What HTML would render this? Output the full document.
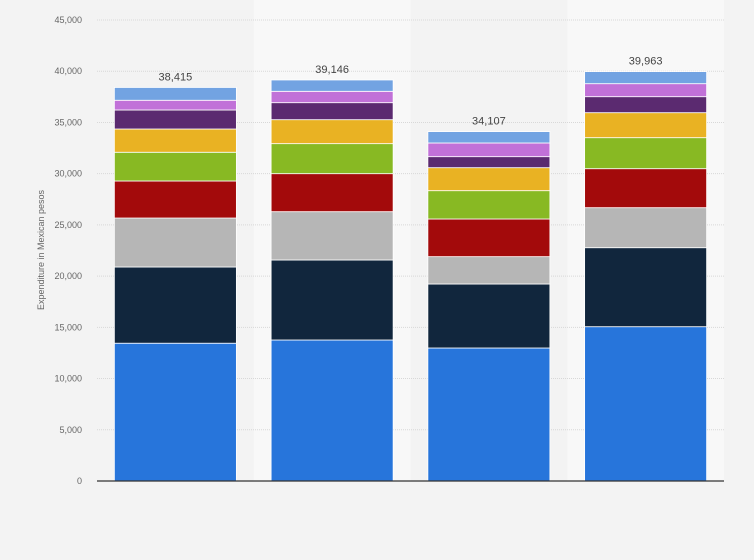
<!DOCTYPE html>
<html><head><meta charset="utf-8"><style>
html,body{margin:0;padding:0;background:#f3f3f3;}
svg{display:block;font-family:"Liberation Sans",sans-serif;}
</style></head><body>
<svg id="chart" width="754" height="560" viewBox="0 0 754 560">
<rect x="0" y="0" width="754" height="560" fill="#f3f3f3"/>
<g id="bands"></g><g id="grid"></g><g id="bars"></g><g id="labels"></g>
<line x1="97" y1="481" x2="724" y2="481" stroke="#333" stroke-width="1.2"/>
<text x="44" y="250" transform="rotate(-90 44 250)" text-anchor="middle" font-size="9" fill="#666">Expenditure in Mexican pesos</text>
</svg>
<script>
const categories = ["A","B","C","D"];
const totals = [38415, 39146, 34107, 39963];
const s1 = [13450, 13764, 12983, 15062];
const s2 = [7440, 7809, 6247, 7712];
const s3 = [4780, 4717, 2670, 3906];
const s4 = [3615, 3710, 3675, 3806];
const s5 = [2805, 2930, 2765, 3027];
const s6 = [2270, 2340, 2245, 2440];
const s7 = [1855, 1660, 1075, 1562];
const s8 = [950, 1110, 1335, 1269];
const s9 = [1250, 1106, 1112, 1179];
const yTicks = [0,5000,10000,15000,20000,25000,30000,35000,40000,45000];
const colors = ["#2775db","#11263d","#b6b6b6","#a30a0b","#88b923","#e9b223","#5b2a70","#c171d8","#72a3e2"];
const series = [s1,s2,s3,s4,s5,s6,s7,s8,s9];
const NS="http://www.w3.org/2000/svg";
const y0=481, yTop=20, yMax=45000;
function y(v){return y0-(v/yMax)*(y0-yTop);}
const plotL=97, plotR=724, bw=122;
const step=(plotR-plotL)/categories.length;
function xc(i){return plotL+step*(i+0.5);}
const bands=document.getElementById('bands'), grid=document.getElementById('grid'), bars=document.getElementById('bars'), labels=document.getElementById('labels');
categories.forEach((c,i)=>{
  if(i%2===1){
    const r=document.createElementNS(NS,'rect');
    r.setAttribute('x',plotL+step*i);r.setAttribute('y',0);r.setAttribute('width',step);r.setAttribute('height',y0);
    r.setAttribute('fill','#f8f8f8');
    
    
    bands.appendChild(r);
  }
});
yTicks.forEach(t=>{
  if(t>0){
    const l=document.createElementNS(NS,'line');
    l.setAttribute('x1',plotL);l.setAttribute('x2',plotR);l.setAttribute('y1',y(t));l.setAttribute('y2',y(t));
    l.setAttribute('stroke','#d8d8d8');l.setAttribute('stroke-dasharray','1,1');
    
    
    grid.appendChild(l);
  }
  const tx=document.createElementNS(NS,'text');
  tx.setAttribute('x',82);tx.setAttribute('y',y(t)+3);tx.setAttribute('text-anchor','end');
  tx.setAttribute('font-size','9');tx.setAttribute('fill','#666');
  tx.textContent=t.toLocaleString('en-US');
  
  
  labels.appendChild(tx);
});
categories.forEach((c,i)=>{
  let cum=0;
  series.forEach((s,k)=>{
    const v=s[i];
    const r=document.createElementNS(NS,'rect');
    r.setAttribute('x',xc(i)-bw/2);r.setAttribute('y',y(cum+v));
    r.setAttribute('width',bw);r.setAttribute('height',y(cum)-y(cum+v));
    r.setAttribute('fill',colors[k]);r.setAttribute('stroke','#fff');r.setAttribute('stroke-width','0.8');
    
    
    bars.appendChild(r);
    cum+=v;
  });
  const tx=document.createElementNS(NS,'text');
  tx.setAttribute('x',xc(i));tx.setAttribute('y',y(totals[i])-7);tx.setAttribute('text-anchor','middle');
  tx.setAttribute('font-size','11');tx.setAttribute('fill','#444');
  tx.textContent=totals[i].toLocaleString('en-US');
  
  
  labels.appendChild(tx);
});
</script>
</body></html>
